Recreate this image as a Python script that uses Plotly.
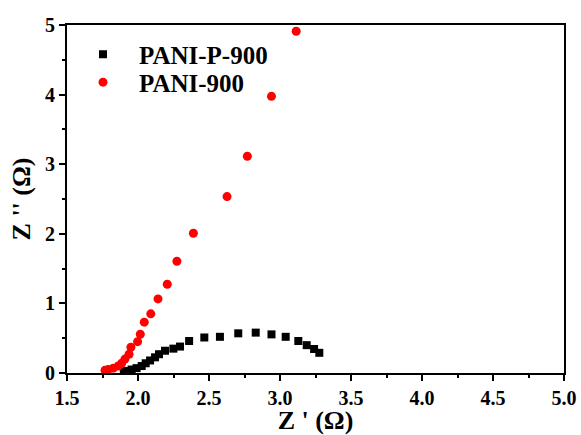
import plotly.graph_objects as go

# PANI-P-900 (black squares)
zr_p900 = [1.90, 1.92, 1.955, 1.99, 2.026, 2.054, 2.085, 2.12, 2.148, 2.19, 2.249, 2.296,
           2.36, 2.467, 2.577, 2.706, 2.829, 2.94, 3.04, 3.129, 3.188, 3.24, 3.277]
zi_p900 = [0.02, 0.03, 0.05, 0.07, 0.10, 0.14, 0.18, 0.225, 0.27, 0.32, 0.35, 0.38,
           0.46, 0.51, 0.52, 0.57, 0.58, 0.555, 0.52, 0.46, 0.40, 0.345, 0.29]

# PANI-900 (red circles)
zr_900 = [1.768, 1.79, 1.826, 1.861, 1.885, 1.908, 1.937, 1.95, 1.997, 2.016, 2.044,
          2.09, 2.141, 2.206, 2.274, 2.39, 2.627, 2.77, 2.94, 3.114]
zi_900 = [0.04, 0.05, 0.07, 0.10, 0.14, 0.20, 0.27, 0.37, 0.45, 0.556, 0.73,
          0.85, 1.065, 1.275, 1.605, 2.008, 2.535, 3.115, 3.975, 4.91]

font_family = "Liberation Serif, Times New Roman, serif"

fig = go.Figure()
fig.add_trace(go.Scatter(x=zr_p900, y=zi_p900, mode="markers", name="PANI-P-900",
                         legend="legend",
                         marker=dict(symbol="square", size=8, color="black")))
fig.add_trace(go.Scatter(x=zr_900, y=zi_900, mode="markers", name="PANI-900",
                         legend="legend2",
                         marker=dict(symbol="circle", size=9, color="red")))

tick_font = dict(family=font_family, size=20, color="black", weight="bold")
title_font = dict(family=font_family, size=26, color="black", weight="bold")

fig.update_xaxes(range=[1.5, 5.0], dtick=0.5, tick0=1.5, tickformat=".1f",
                 showline=True, linecolor="#000000", linewidth=2, mirror=True,
                 ticks="outside", ticklen=6, tickwidth=2, tickcolor="#000000",
                 showgrid=False, zeroline=False, tickfont=tick_font, automargin=False,
                 minor=dict(ticks="outside", ticklen=3, tickwidth=2, dtick=0.25, tickcolor="#000000"),
                 title=dict(text="Z ' (Ω)", standoff=2, font=title_font))
fig.update_yaxes(range=[0, 5.0], dtick=1, tick0=0,
                 showline=True, linecolor="#000000", linewidth=2, mirror=True,
                 ticks="outside", ticklen=6, tickwidth=2, tickcolor="#000000",
                 showgrid=False, zeroline=False, tickfont=tick_font, automargin=False,
                 minor=dict(ticks="outside", ticklen=3, tickwidth=2, dtick=0.5, tickcolor="#000000"),
                 title=dict(text="Z '' (Ω)", standoff=7, font=title_font))

legend_font = dict(family=font_family, size=25, color="black", weight="bold")
fig.update_layout(
    width=581, height=435,
    margin=dict(l=67, r=17, t=25, b=62, autoexpand=False),
    paper_bgcolor="white", plot_bgcolor="white",
    showlegend=True,
    legend=dict(x=0.0, y=0.915, xanchor="left", yanchor="middle", itemwidth=62,
                bgcolor="rgba(0,0,0,0)", font=legend_font),
    legend2=dict(x=0.0, y=0.835, xanchor="left", yanchor="middle", itemwidth=62,
                 bgcolor="rgba(0,0,0,0)", font=legend_font),
)

fig.write_html("out.html", config={"displayModeBar": False},
               post_script="document.body.style.margin='0';document.body.style.padding='0';")
